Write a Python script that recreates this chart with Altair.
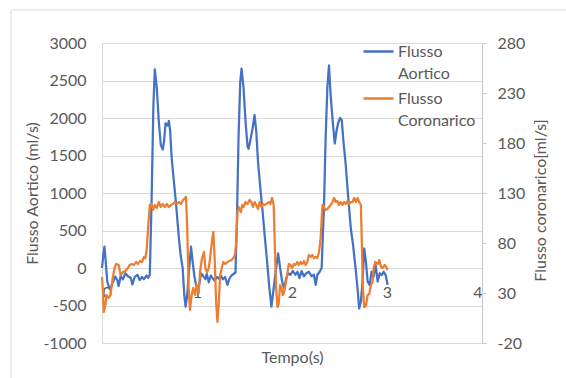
import altair as alt
import pandas as pd

# Tempo (s) e flusso aortico (ml/s) - asse sinistro
t_aortico = [
    0.000, 0.016, 0.026, 0.037, 0.055, 0.072, 0.090, 0.111, 0.140, 0.161,
    0.175, 0.196, 0.220, 0.246, 0.273, 0.302, 0.320, 0.344, 0.372, 0.397,
    0.421, 0.442, 0.468, 0.485, 0.503, 0.521, 0.541, 0.556, 0.577, 0.598,
    0.619, 0.640, 0.654, 0.669, 0.690, 0.704, 0.718, 0.733, 0.757, 0.778,
    0.792, 0.813, 0.828, 0.849, 0.866, 0.880, 0.897, 0.915, 0.937, 0.954,
    0.971, 0.989, 1.011, 1.026, 1.042, 1.067, 1.088, 1.103, 1.124, 1.145,
    1.166, 1.187, 1.208, 1.230, 1.251, 1.272, 1.296, 1.321, 1.342, 1.363,
    1.384, 1.405, 1.420, 1.437, 1.455, 1.469, 1.490, 1.511, 1.532, 1.543,
    1.561, 1.585, 1.606, 1.624, 1.642, 1.667, 1.691, 1.712, 1.738, 1.762,
    1.783, 1.807, 1.833, 1.854, 1.875, 1.896, 1.917, 1.939, 1.960, 1.984,
    2.008, 2.037, 2.058, 2.079, 2.101, 2.125, 2.150, 2.178, 2.206, 2.231,
    2.249, 2.267, 2.291, 2.312, 2.337, 2.354, 2.372, 2.389, 2.407, 2.429,
    2.450, 2.468, 2.485, 2.506, 2.524, 2.542, 2.566, 2.590, 2.619, 2.643,
    2.669, 2.690, 2.707, 2.725, 2.743, 2.760, 2.778, 2.796, 2.817, 2.838,
    2.859, 2.880, 2.902, 2.923, 2.944, 2.965, 2.986, 3.007,
]
flusso_aortico = [
    0, 200, 285, 120, -180, -250, -270, -200, -115, -160,
    -240, -110, -150, -70, -110, -130, -220, -120, -90, -160,
    -120, -150, -100, -130, -90, 840, 2170, 2650, 2400, 1950,
    1640, 1580, 1700, 1930, 1900, 1960, 1820, 1470, 1150, 880,
    660, 350, 170, 0, -360, -515, -360, -50, 285, 85,
    -95, -225, -270, -200, -70, -110, -150, -80, -190, -100,
    -140, -170, -120, -140, -100, -150, -120, -225, -140, -100,
    -80, -60, 620, 1730, 2480, 2660, 2400, 1950, 1620, 1590,
    1700, 1860, 2040, 1820, 1420, 1060, 750, 440, 85, -270,
    -515, -270, 0, 195, 0, -180, -270, -135, -70, -90,
    -40, -90, -50, -135, -40, -110, -70, -50, -110, -90,
    -225, -90, -50, 0, 840, 1730, 2400, 2700, 2300, 1950,
    1660, 1820, 1930, 2000, 1970, 1680, 1370, 970, 530, 305,
    0, -270, -540, -450, -180, 260, 85, -180, -225, -50,
    -115, 40, -180, -70, -95, -50, -95, -225,
]

# Tempo (s) e flusso coronarico (ml/s) - asse destro
t_coronarico = [
    0.000, 0.008, 0.019, 0.034, 0.048, 0.069, 0.090, 0.111, 0.132, 0.150,
    0.175, 0.196, 0.220, 0.246, 0.273, 0.291, 0.315, 0.337, 0.358, 0.379,
    0.400, 0.421, 0.442, 0.457, 0.471, 0.485, 0.503, 0.521, 0.538, 0.556,
    0.577, 0.598, 0.619, 0.640, 0.661, 0.683, 0.704, 0.725, 0.746, 0.767,
    0.788, 0.810, 0.831, 0.855, 0.884, 0.897, 0.912, 0.926, 0.944, 0.961,
    0.979, 0.997, 1.018, 1.032, 1.053, 1.074, 1.088, 1.106, 1.124, 1.138,
    1.156, 1.172, 1.187, 1.201, 1.215, 1.230, 1.243, 1.261, 1.278, 1.299,
    1.321, 1.342, 1.363, 1.384, 1.399, 1.413, 1.426, 1.441, 1.462, 1.476,
    1.490, 1.511, 1.532, 1.553, 1.571, 1.589, 1.606, 1.624, 1.642, 1.660,
    1.677, 1.695, 1.712, 1.730, 1.754, 1.772, 1.790, 1.807, 1.818, 1.833,
    1.847, 1.860, 1.875, 1.889, 1.903, 1.917, 1.931, 1.949, 1.966, 1.984,
    2.002, 2.019, 2.037, 2.055, 2.072, 2.090, 2.108, 2.125, 2.143, 2.161,
    2.178, 2.196, 2.214, 2.231, 2.249, 2.267, 2.284, 2.302, 2.320, 2.337,
    2.354, 2.372, 2.389, 2.407, 2.425, 2.443, 2.460, 2.478, 2.495, 2.513,
    2.531, 2.548, 2.566, 2.584, 2.601, 2.619, 2.637, 2.654, 2.672, 2.690,
    2.707, 2.725, 2.735, 2.746, 2.760, 2.778, 2.796, 2.813, 2.831, 2.849,
    2.859, 2.876, 2.902, 2.919, 2.937, 2.956, 2.975, 2.992, 3.007,
]
flusso_coronarico = [
    46, 35, 11, 17, 28, 25, 28, 44, 55, 59,
    58, 48, 51, 52, 55, 58, 59, 58, 61, 59,
    62, 61, 66, 65, 74, 95, 118, 119, 113, 118,
    115, 121, 116, 119, 116, 119, 116, 118, 119, 121,
    119, 121, 119, 123, 126, 95, 35, 13, 28, 35,
    28, 38, 30, 51, 65, 71, 55, 51, 55, 65,
    81, 91, 62, 21, 1, 21, 48, 55, 61, 59,
    61, 62, 63, 65, 68, 81, 111, 116, 111, 118,
    116, 121, 119, 123, 121, 116, 121, 118, 114, 121,
    116, 119, 118, 119, 121, 119, 125, 118, 81, 35,
    16, 19, 38, 35, 28, 31, 38, 48, 59, 58,
    55, 59, 58, 61, 58, 61, 59, 62, 58, 61,
    68, 66, 68, 65, 66, 65, 71, 85, 118, 116,
    113, 114, 116, 118, 121, 125, 121, 122, 118, 121,
    118, 121, 119, 122, 119, 121, 121, 125, 121, 125,
    121, 118, 81, 35, 16, 17, 28, 29, 38, 41,
    55, 61, 59, 63, 56, 55, 58, 56, 53,
]

serie = ["Flusso Aortico", "Flusso Coronarico"]
colori = ["#4472C4", "#ED7D31"]
tick_x = [0, 1, 2, 3, 4]
tick_sx = [-1000, -500, 0, 500, 1000, 1500, 2000, 2500, 3000]
tick_dx = [-20, 30, 80, 130, 180, 230, 280]

FONT = "Lato"
GRIGIO = "#595959"
NUMERO = "datum.value + ''"  # numeri senza separatore delle migliaia, segno '-'

df_a = pd.DataFrame({"t": t_aortico, "valore": flusso_aortico, "serie": serie[0]})
df_c = pd.DataFrame({"t": t_coronarico, "valore": flusso_coronarico, "serie": serie[1]})

x_enc = alt.X(
    "t:Q",
    scale=alt.Scale(domain=[0, 4], nice=False),
    axis=alt.Axis(
        values=tick_x, title="Tempo(s)", grid=False, ticks=False, tickSize=0,
        offset=-75, labelPadding=24, labelBaseline="middle", labelExpr=NUMERO,
        domainColor="#d9d9d9", titleY=89, titleBaseline="middle",
    ),
)

color_enc = alt.Color(
    "serie:N",
    scale=alt.Scale(domain=serie, range=colori),
    legend=alt.Legend(
        title=None, orient="none", legendX=260, legendY=-8,
        symbolType="stroke", symbolSize=900, symbolStrokeWidth=2.5,
        labelExpr="split(datum.label, ' ')", labelOffset=3,
        labelFontSize=16, labelColor=GRIGIO, labelFont=FONT,
        rowPadding=0, padding=0, labelBaseline="middle",
    ),
)

cornice = alt.Chart(pd.DataFrame({"k": [0]})).mark_rect(
    fill=None, stroke="#d9d9d9", strokeWidth=1
).encode(
    x=alt.value(-91), x2=alt.value(600), y=alt.value(-33), y2=alt.value(400)
)

aortico = alt.Chart(df_a).mark_line(strokeWidth=2.25, strokeJoin="round").encode(
    x=x_enc,
    y=alt.Y(
        "valore:Q",
        scale=alt.Scale(domain=[-1000, 3000], nice=False),
        axis=alt.Axis(
            values=tick_sx, title="Flusso Aortico (ml/s)", orient="left",
            ticks=False, tickSize=0, labelPadding=16, labelExpr=NUMERO,
            domainColor="#d9d9d9", gridColor="#d9d9d9", grid=True,
            titleX=-70, titleY=150, titleAngle=270, titleBaseline="middle",
            titleAlign="center",
        ),
    ),
    color=color_enc,
    order="t:Q",
)

coronarico = alt.Chart(df_c).mark_line(strokeWidth=2.25, strokeJoin="round").encode(
    x=x_enc,
    y=alt.Y(
        "valore:Q",
        scale=alt.Scale(domain=[-20, 280], nice=False),
        axis=alt.Axis(
            values=tick_dx, title="Flusso coronarico[ml/s]", orient="right",
            ticks=True, tickSize=4, tickColor="#c8c8c8", labelPadding=11,
            labelExpr=NUMERO, domainColor="#c8c8c8", grid=False,
            titleX=58, titleY=157, titleAngle=270, titleBaseline="middle",
            titleAlign="center",
        ),
    ),
    color=color_enc,
    order="t:Q",
)

chart = (
    alt.layer(cornice, aortico, coronarico)
    .resolve_scale(y="independent")
    .properties(
        width=380,
        height=300,
        autosize=alt.AutoSizeParams(type="none"),
        padding={"left": 102, "top": 43, "right": 84, "bottom": 35},
        title=alt.TitleParams(
            "(A)", frame="group", anchor="middle", offset=45, dx=7,
            baseline="alphabetic", fontSize=16, font=FONT,
            fontWeight="normal", color=GRIGIO,
        ),
    )
    .configure(background="white", style={"guide-label": {"lineHeight": 22}})
    .configure_view(stroke=None)
    .configure_axis(
        labelFont=FONT, titleFont=FONT, labelFontSize=16, titleFontSize=16,
        labelColor=GRIGIO, titleColor=GRIGIO, titleFontWeight="normal",
        domainWidth=1, gridWidth=1,
    )
)

chart.save("out.html", embed_options={"renderer": "svg", "actions": False})
